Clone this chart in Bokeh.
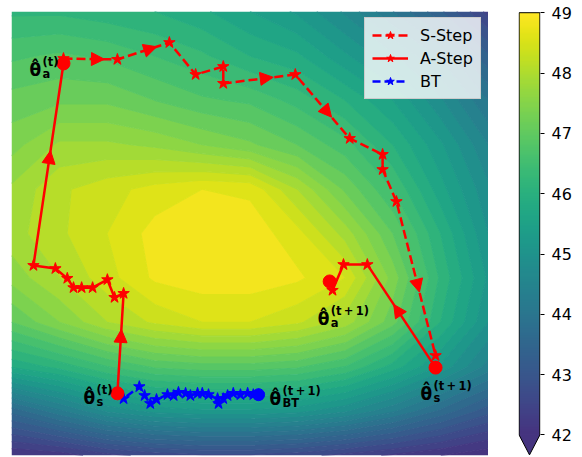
import numpy as np
from bokeh.plotting import figure
from bokeh.layouts import row
from bokeh.models import (Range1d, ColumnDataSource, Arrow, NormalHead, Legend,
                          LegendItem, FixedTicker, LinearColorMapper)
from bokeh.palettes import Viridis256
from bokeh.core.properties import value
from bokeh.embed import file_html
from bokeh.resources import INLINE

# ---------------- data ----------------
grid_x = np.linspace(0, 10, 11)
grid_y = np.linspace(0, 10, 11)
# loss landscape, rows from bottom (y=0) to top (y=10)
loss_rows = [
    [42.0, 42.1, 42.4, 42.6, 42.7, 42.7, 42.6, 42.4, 42.2, 42.0, 41.8],
    [43.6, 44.2, 44.8, 45.1, 45.2, 45.2, 45.1, 44.8, 44.3, 43.7, 43.1],
    [45.8, 46.1, 46.5, 46.8, 46.9, 46.9, 46.8, 46.5, 45.9, 45.2, 44.4],
    [47.0, 47.5, 48.0, 48.3, 48.5, 48.5, 48.3, 47.9, 47.1, 46.0, 45.0],
    [47.6, 48.0, 48.4, 48.8, 48.9, 48.9, 48.8, 48.5, 47.4, 46.2, 45.2],
    [47.9, 48.2, 48.5, 48.85, 48.95, 48.9, 48.6, 47.9, 47.0, 46.0, 45.0],
    [47.8, 48.2, 48.4, 48.6, 48.75, 48.7, 48.0, 47.2, 46.5, 45.6, 44.8],
    [47.4, 47.8, 47.8, 47.7, 47.5, 47.3, 47.0, 46.6, 46.0, 45.3, 44.5],
    [47.1, 47.2, 47.2, 47.0, 46.8, 46.7, 46.4, 46.0, 45.5, 44.8, 44.0],
    [46.7, 46.8, 46.7, 46.5, 46.3, 46.0, 45.8, 45.3, 44.8, 44.2, 43.3],
    [46.2, 46.2, 46.1, 46.0, 45.8, 45.5, 45.2, 44.7, 44.0, 43.3, 42.4],
]

s_step_x = [1.09, 2.22, 3.31, 3.86, 4.44, 4.44, 5.95, 7.09, 7.78, 7.78, 8.07, 8.89]
s_step_y = [8.94, 8.92, 9.30, 8.58, 8.76, 8.38, 8.58, 7.14, 6.78, 6.44, 5.72, 2.25]

a_step1_x = [2.22, 2.35, 2.16, 2.01, 1.70, 1.47, 1.30, 1.17, 0.92, 0.46, 1.09]
a_step1_y = [1.40, 3.65, 3.56, 3.96, 3.78, 3.78, 3.78, 3.99, 4.21, 4.28, 8.83]

a_step2_x = [8.89, 7.46, 6.96, 6.73]
a_step2_y = [1.98, 4.30, 4.30, 3.72]

bt_x = [2.22, 2.35, 2.68, 2.79, 2.91, 3.04, 3.27, 3.40, 3.50, 3.65, 3.75, 3.90,
        4.00, 4.13, 4.32, 4.34, 4.44, 4.53, 4.65, 4.80, 4.95, 5.07, 5.18]
bt_y = [1.40, 1.28, 1.55, 1.35, 1.17, 1.26, 1.37, 1.35, 1.42, 1.40, 1.35, 1.40,
        1.40, 1.37, 1.28, 1.17, 1.28, 1.35, 1.40, 1.37, 1.40, 1.37, 1.37]

# key points: theta_s(t), theta_a(t), theta_s(t+1), theta_a(t+1), theta_BT(t+1)
pt_x = [2.22, 1.09, 8.89, 6.67, 5.18]
pt_y = [1.40, 8.83, 1.98, 3.92, 1.37]
pt_sub = ["s", "a", "s", "a", "BT"]
pt_sup = ["(t)", "(t)", "(t\u2009+\u20091)", "(t\u2009+\u20091)", "(t\u2009+\u20091)"]

cbar_ticks = [42, 43, 44, 45, 46, 47, 48, 49]
cbar_low, cbar_high = 42, 49

# ---------------- styles ----------------
FW, FH = 477, 444
SX, SY = FW / 10.0, FH / 10.0
pal = Viridis256[38:]
low_color = Viridis256[38]


def vcolor(v):
    t = (v - cbar_low) / (cbar_high - cbar_low)
    t = min(max(t, 0.0), 1.0)
    return pal[int(round(t * (len(pal) - 1)))]


levels = list(np.arange(41.5, 49.01, 0.25))
band_colors = [vcolor((a + b) / 2) for a, b in zip(levels[:-1], levels[1:])]
line_colors = [band_colors[max(k - 1, 0)] for k in range(len(levels))]

p = figure(frame_width=FW, frame_height=FH, x_range=Range1d(0, 10), y_range=Range1d(0, 10),
           x_axis_location=None, y_axis_location=None, toolbar_location=None,
           output_backend="svg", min_border_left=11, min_border_top=11,
           min_border_right=0, min_border_bottom=1)
p.grid.visible = False
p.outline_line_color = None

Z = np.array(loss_rows)
p.contour(grid_x, grid_y, Z, levels, fill_color=band_colors,
          line_color=line_colors, line_width=1.2)


def arrow_source(xs, ys, min_px=45, head_px=14):
    d = dict(x0=[], y0=[], x1=[], y1=[])
    for i in range(len(xs) - 1):
        dxp = (xs[i + 1] - xs[i]) * SX
        dyp = (ys[i + 1] - ys[i]) * SY
        L = float(np.hypot(dxp, dyp))
        if L > min_px:
            mx = (xs[i] + xs[i + 1]) / 2
            my = (ys[i] + ys[i + 1]) / 2
            d["x0"].append(mx)
            d["y0"].append(my)
            d["x1"].append(mx + dxp / L * head_px / SX)
            d["y1"].append(my + dyp / L * head_px / SY)
    return ColumnDataSource(d)


RED = "#ff0000"
BLUE = "#0000ff"

bt_line = p.line(bt_x, bt_y, line_color=BLUE, line_width=2.5, line_dash="8 4")
bt_star = p.scatter(bt_x[1:], bt_y[1:], marker="star", size=12, color=BLUE)

s_line = p.line(s_step_x, s_step_y, line_color=RED, line_width=2.5, line_dash="9 4")
s_star = p.scatter(s_step_x, s_step_y, marker="star", size=12, color=RED)

a1_line = p.line(a_step1_x, a_step1_y, line_color=RED, line_width=2.5)
a1_star = p.scatter(a_step1_x, a_step1_y, marker="star", size=12, color=RED)
a2_line = p.line(a_step2_x, a_step2_y, line_color=RED, line_width=2.5)
a2_star = p.scatter(a_step2_x, a_step2_y, marker="star", size=12, color=RED)

for xs, ys in [(s_step_x, s_step_y), (a_step1_x, a_step1_y), (a_step2_x, a_step2_y)]:
    p.add_layout(Arrow(end=NormalHead(size=13, fill_color=RED, line_color=RED, line_width=1),
                       x_start="x0", y_start="y0", x_end="x1", y_end="y1",
                       source=arrow_source(xs, ys), line_alpha=0))

p.scatter(pt_x[:4], pt_y[:4], marker="circle", size=13, color=RED)
p.scatter(pt_x[4:], pt_y[4:], marker="circle", size=12, color=BLUE)

# labels: theta-hat with sub/superscript, offsets in screen px (y down)
lab_dx = [-34, -34, -15, -12, 11]
lab_dy = [5, 7, 26, 38, 4]
lab_src = ColumnDataSource(dict(
    x=pt_x, y=pt_y, main=["\u03b8\u0302"] * 5, sub=pt_sub, sup=pt_sup,
    mdx=lab_dx, mdy=lab_dy,
    sdx=[d + 13 for d in lab_dx], supdy=[d - 8 for d in lab_dy], subdy=[d + 4 for d in lab_dy]))
font = value("DejaVu Sans")
p.text(x="x", y="y", text="main", x_offset="mdx", y_offset="mdy", source=lab_src,
       text_font=font, text_font_style="bold", text_font_size="17px",
       text_baseline="alphabetic", text_align="left", text_color="black")
p.text(x="x", y="y", text="sup", x_offset="sdx", y_offset="supdy", source=lab_src,
       text_font=font, text_font_style="bold", text_font_size="11.5px",
       text_baseline="alphabetic", text_align="left", text_color="black")
p.text(x="x", y="y", text="sub", x_offset="sdx", y_offset="subdy", source=lab_src,
       text_font=font, text_font_style="bold", text_font_size="11.5px",
       text_baseline="alphabetic", text_align="left", text_color="black")

legend = Legend(items=[LegendItem(label="S-Step", renderers=[s_line, s_star]),
                       LegendItem(label="A-Step", renderers=[a1_line, a1_star]),
                       LegendItem(label="BT", renderers=[bt_line, bt_star])],
                location=(353, 356), label_text_font="DejaVu Sans",
                label_text_font_size="16px", label_text_color="black",
                glyph_width=36, glyph_height=20,
                label_standoff=12, spacing=3, padding=7, margin=0,
                background_fill_color="white", background_fill_alpha=0.8,
                border_line_color="#cccccc", border_line_alpha=1.0)
p.add_layout(legend)

# ---------------- colorbar ----------------
ext = 0.33
cb = figure(frame_width=22, frame_height=444, x_range=Range1d(-0.03, 1.03),
            y_range=Range1d(cbar_low - ext - 0.01, cbar_high + 0.02),
            x_axis_location=None, y_axis_location="right", toolbar_location=None,
            output_backend="svg", min_border_left=30, min_border_top=11,
            min_border_right=0, min_border_bottom=1)
cb.grid.visible = False
cb.outline_line_color = None
mapper = LinearColorMapper(palette=pal, low=cbar_low, high=cbar_high)
grad = np.linspace(cbar_low, cbar_high, 256).reshape(-1, 1)
cb.image(image=[grad], x=0, y=cbar_low, dw=1, dh=cbar_high - cbar_low, color_mapper=mapper)
cb.patch([0, 1, 0.5], [cbar_low, cbar_low, cbar_low - ext], fill_color=low_color, line_color=None)
cb.line([0, 0, 0.5, 1, 1, 0], [cbar_high, cbar_low, cbar_low - ext, cbar_low, cbar_high, cbar_high],
        line_color="black", line_width=1)
ax = cb.yaxis[0]
ax.ticker = FixedTicker(ticks=cbar_ticks)
ax.axis_line_color = None
ax.major_tick_out = 4
ax.major_tick_in = 0
ax.minor_tick_out = 0
ax.minor_tick_in = 0
ax.major_tick_line_color = "black"
ax.major_label_standoff = 7
ax.major_label_text_font = "DejaVu Sans"
ax.major_label_text_font_size = "16px"
ax.major_label_text_color = "black"

layout = row(p, cb)
open("out.html", "w").write(file_html(layout, INLINE))
